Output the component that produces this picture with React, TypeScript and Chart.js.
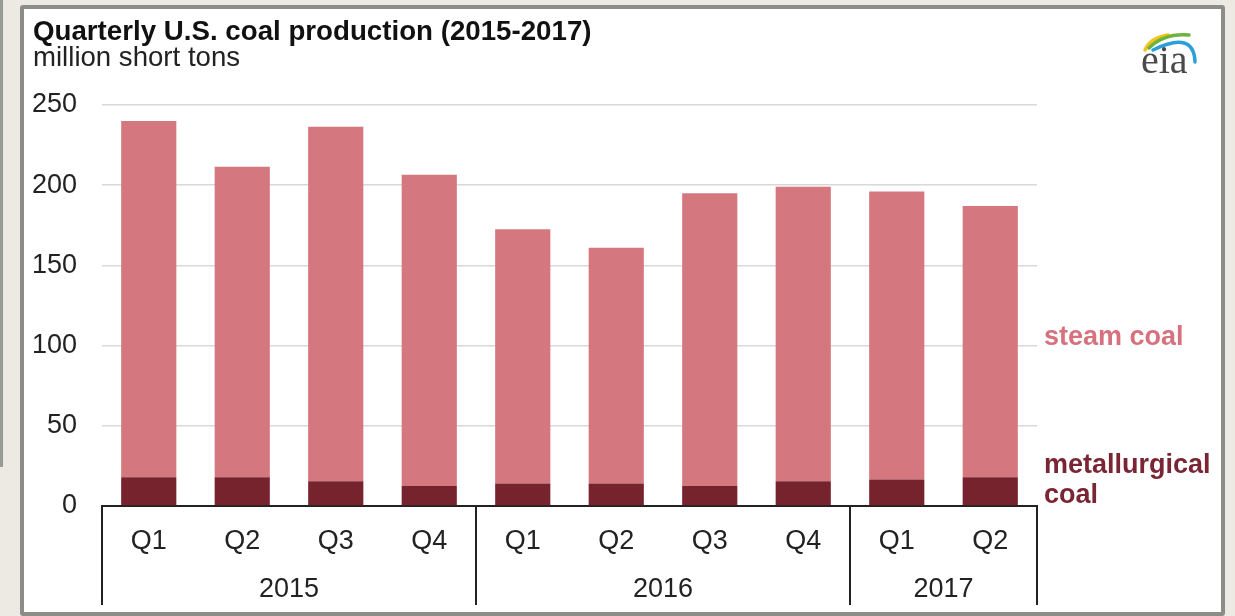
import React, { useEffect, useRef } from 'react';
import { Chart, registerables } from 'chart.js';

Chart.register(...registerables);

const quarters = ['Q1', 'Q2', 'Q3', 'Q4', 'Q1', 'Q2', 'Q3', 'Q4', 'Q1', 'Q2'];
const years = ['2015', '2016', '2017'];
const quartersPerYear = [4, 4, 2];
const metallurgicalCoal = [18, 18, 15.5, 12.5, 14, 14, 12.5, 15.5, 16.5, 18];
const steamCoal = [222, 193.5, 221, 194, 158.5, 147, 182.5, 183.5, 179.5, 169];
const yMin = 0;
const yMax = 250;
const yStep = 50;

const FONT = '"Liberation Sans", Arial, sans-serif';
const STEAM_COLOR = '#d5777f';
const MET_COLOR = '#76232e';

const decorPlugin = {
  id: 'decor',
  afterDraw(chart: any) {
    const ctx = chart.ctx as CanvasRenderingContext2D;
    const x = chart.scales.x;
    const area = chart.chartArea;
    ctx.save();

    // Title and subtitle
    ctx.textAlign = 'left';
    ctx.textBaseline = 'alphabetic';
    ctx.fillStyle = '#111';
    ctx.font = `bold 27.7px ${FONT}`;
    ctx.fillText('Quarterly U.S. coal production (2015-2017)', 33, 40);
    ctx.fillStyle = '#222';
    ctx.font = `27.6px ${FONT}`;
    ctx.fillText('million short tons', 33, 66);

    // Group separators and year labels
    const n = quarters.length;
    const boundary = (i: number) => {
      if (i <= 0) return area.left;
      if (i >= n) return area.right;
      return (x.getPixelForValue(i - 1) + x.getPixelForValue(i)) / 2;
    };
    ctx.strokeStyle = '#222';
    ctx.lineWidth = 2;
    let start = 0;
    const bounds: number[] = [0];
    quartersPerYear.forEach((c) => {
      start += c;
      bounds.push(start);
    });
    bounds.forEach((b) => {
      const px = Math.round(boundary(b));
      ctx.beginPath();
      ctx.moveTo(px, area.bottom);
      ctx.lineTo(px, area.bottom + 99);
      ctx.stroke();
    });
    ctx.fillStyle = '#222';
    ctx.font = `27px ${FONT}`;
    ctx.textAlign = 'center';
    years.forEach((yr, i) => {
      const cx = (boundary(bounds[i]) + boundary(bounds[i + 1])) / 2;
      ctx.fillText(yr, cx, area.bottom + 91);
    });

    // Series labels
    ctx.textAlign = 'left';
    ctx.font = `bold 27px ${FONT}`;
    ctx.fillStyle = '#d6717d';
    ctx.fillText('steam coal', area.right + 7, 345);
    ctx.fillStyle = '#7a2533';
    ctx.fillText('metallurgical', area.right + 7, 473);
    ctx.fillText('coal', area.right + 7, 503);

    // eia logo
    ctx.lineCap = 'round';
    ctx.lineWidth = 3.5;
    ctx.strokeStyle = '#f2c419';
    ctx.beginPath();
    ctx.moveTo(1145, 50);
    ctx.quadraticCurveTo(1150, 38, 1168, 35);
    ctx.stroke();
    ctx.strokeStyle = '#6cb33f';
    ctx.beginPath();
    ctx.moveTo(1149, 48);
    ctx.quadraticCurveTo(1164, 33, 1189, 35);
    ctx.stroke();
    ctx.strokeStyle = '#2b9fd9';
    ctx.beginPath();
    ctx.moveTo(1153, 50);
    ctx.quadraticCurveTo(1194, 30, 1195, 62);
    ctx.stroke();
    ctx.fillStyle = '#4a4a4a';
    ctx.font = `40px "Liberation Serif", "DejaVu Serif", serif`;
    ctx.textAlign = 'left';
    ctx.fillText('eia', 1141, 73);

    ctx.restore();
  },
};

export default function App() {
  const canvasRef = useRef<HTMLCanvasElement | null>(null);

  useEffect(() => {
    const canvas = canvasRef.current;
    if (!canvas) return;
    const chart = new Chart(canvas, {
      type: 'bar',
      data: {
        labels: quarters,
        datasets: [
          {
            label: 'metallurgical coal',
            data: metallurgicalCoal,
            backgroundColor: MET_COLOR,
            barPercentage: 0.59,
            categoryPercentage: 1,
          },
          {
            label: 'steam coal',
            data: steamCoal,
            backgroundColor: STEAM_COLOR,
            barPercentage: 0.59,
            categoryPercentage: 1,
          },
        ],
      },
      options: {
        responsive: false,
        animation: false,
        events: [],
        layout: { padding: { left: 0, right: 198, top: 105, bottom: 0 } },
        plugins: {
          legend: { display: false },
          tooltip: { enabled: false },
          title: { display: false },
        },
        scales: {
          x: {
            stacked: true,
            grid: { display: false, drawTicks: false },
            border: { display: true, color: '#222', width: 2 },
            ticks: {
              color: '#222',
              font: { family: FONT, size: 27 },
              padding: 19,
              maxRotation: 0,
              autoSkip: false,
            },
            afterFit: (scale: any) => {
              scale.height = 110;
            },
          },
          y: {
            stacked: true,
            min: yMin,
            max: yMax,
            grid: {
              drawTicks: false,
              color: (c: any) => (c.tick && c.tick.value === 0 ? 'rgba(0,0,0,0)' : '#d8d8d8'),
              lineWidth: 1.5,
            },
            border: { display: false },
            ticks: {
              stepSize: yStep,
              color: '#222',
              font: { family: FONT, size: 27 },
              padding: 25,
            },
            afterFit: (scale: any) => {
              scale.width = 102;
            },
          },
        },
      },
      plugins: [decorPlugin],
    });
    return () => chart.destroy();
  }, []);

  return (
    <div
      style={{
        position: 'fixed',
        left: 0,
        top: 0,
        width: 1235,
        height: 616,
        background: '#edeae3',
        overflow: 'hidden',
      }}
    >
      <div
        style={{
          position: 'absolute',
          left: 0,
          top: 0,
          width: 3,
          height: 467,
          background: '#9a9a94',
        }}
      />
      <div
        style={{
          position: 'absolute',
          left: 20,
          top: 5,
          width: 1205,
          height: 611,
          boxSizing: 'border-box',
          border: '4px solid #8d8d87',
          borderRadius: 3,
          background: '#ffffff',
        }}
      />
      <canvas
        ref={canvasRef}
        width={1235}
        height={616}
        style={{ position: 'absolute', left: 0, top: 0, width: 1235, height: 616, display: 'block' }}
      />
    </div>
  );
}
